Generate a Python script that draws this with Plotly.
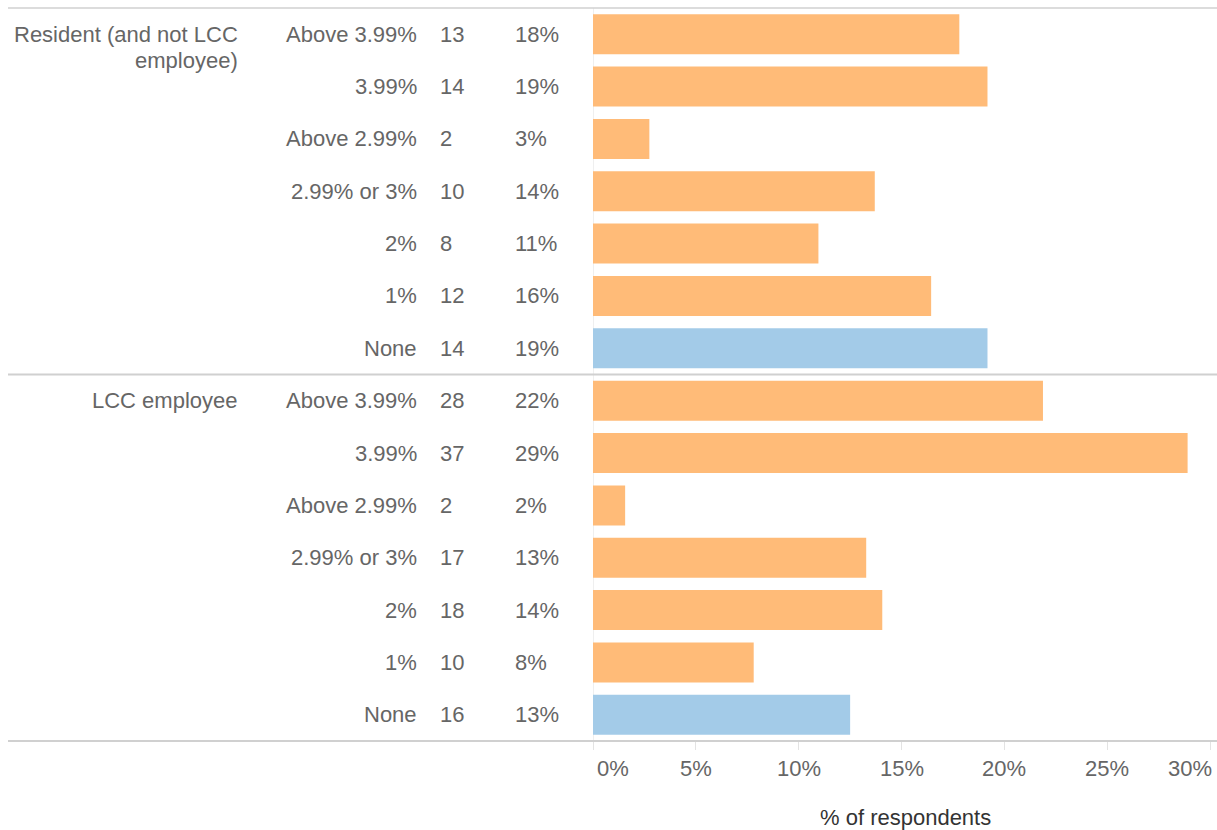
import math
import plotly.graph_objects as go

# Survey responses: preferred council tax rise, by respondent group
groups = [["Resident (and not LCC", "employee)"], ["LCC employee"]]
options = ["Above 3.99%", "3.99%", "Above 2.99%", "2.99% or 3%", "2%", "1%", "None"]
resident_counts = [13, 14, 2, 10, 8, 12, 14]
employee_counts = [28, 37, 2, 17, 18, 10, 16]

tick_values = [0, 5, 10, 15, 20, 25, 30]
tick_labels = ["0%", "5%", "10%", "15%", "20%", "25%", "30%"]

ORANGE = "#FFBB78"
BLUE = "#A3CBE8"
TEXT = "#666666"
RULE = "#D0D0D0"
FONT = "Liberation Sans, Arial, sans-serif"
SIZE = 22

# geometry in pixels
W, H = 1217, 830
L, R, T, B = 593, 0, 8, 89
PX_PER_PCT = 20.57
plot_w = W - L - R
x_max = plot_w / PX_PER_PCT


def px_to_paper(px):
    return (px - L) / plot_w


def pct_label(p):
    # round half up
    return f"{math.floor(p + 0.5)}%"


rows_y, rows_pct, rows_color, rows_opt, rows_n = [], [], [], [], []
for counts in (resident_counts, employee_counts):
    total = sum(counts)
    for opt, n in zip(options, counts):
        rows_y.append(len(rows_y))
        rows_pct.append(n / total * 100)
        rows_color.append(BLUE if opt == "None" else ORANGE)
        rows_opt.append(opt)
        rows_n.append(n)

fig = go.Figure(
    go.Bar(
        x=rows_pct,
        y=rows_y,
        orientation="h",
        marker=dict(color=rows_color, line=dict(width=0)),
        hoverinfo="skip",
    )
)

annotations = []
for y, opt, n, pct in zip(rows_y, rows_opt, rows_n, rows_pct):
    annotations.append(dict(x=px_to_paper(419), y=y, xref="paper", yref="y", text=opt,
                            xanchor="right", yanchor="middle", showarrow=False))
    annotations.append(dict(x=px_to_paper(438), y=y, xref="paper", yref="y", text=str(n),
                            xanchor="left", yanchor="middle", showarrow=False))
    annotations.append(dict(x=px_to_paper(513), y=y, xref="paper", yref="y",
                            text=pct_label(pct), xanchor="left", yanchor="middle",
                            showarrow=False))

for i, lines in enumerate(groups):
    for j, line in enumerate(lines):
        annotations.append(dict(x=px_to_paper(240), y=i * len(options), xref="paper",
                                yref="y", text=line, xanchor="right", yanchor="middle",
                                yshift=-26 * j, showarrow=False))

# tick labels: first hugs the left of its tick, last hugs the right
for i, (v, lab) in enumerate(zip(tick_values, tick_labels)):
    anchor = "left" if i == 0 else ("right" if i == len(tick_values) - 1 else "center")
    shift = 2 if i == 0 else (4 if i == len(tick_values) - 1 else 0)
    annotations.append(dict(x=v, y=0, xref="x", yref="paper", text=lab, xanchor=anchor,
                            yanchor="top", yshift=-13, xshift=shift, showarrow=False))

annotations.append(dict(x=px_to_paper(905), y=0, xref="paper", yref="paper",
                        text="% of respondents", xanchor="center", yanchor="top",
                        yshift=-62, showarrow=False,
                        font=dict(color="#333333", size=SIZE)))

shapes = [
    dict(type="line", xref="paper", yref="paper", x0=px_to_paper(8), x1=1, y0=1, y1=1,
         line=dict(color=RULE, width=1.5)),
    dict(type="line", xref="paper", yref="paper", x0=px_to_paper(8), x1=1, y0=0.5, y1=0.5,
         line=dict(color=RULE, width=2)),
    dict(type="line", xref="paper", yref="paper", x0=px_to_paper(8), x1=1, y0=0, y1=0,
         line=dict(color=RULE, width=2)),
    dict(type="line", xref="x", yref="paper", x0=0, x1=0, y0=0, y1=1,
         line=dict(color="#E0E0E0", width=1), layer="below"),
]

fig.update_layout(
    width=W,
    height=H,
    margin=dict(l=L, r=R, t=T, b=B, autoexpand=False),
    paper_bgcolor="white",
    plot_bgcolor="white",
    showlegend=False,
    bargap=0.236,
    font=dict(family=FONT, size=SIZE, color=TEXT),
    xaxis=dict(range=[0, x_max], tickvals=tick_values, showticklabels=False,
               ticks="outside", ticklen=8, tickcolor="#E3E3E3", tickwidth=1,
               showgrid=False, zeroline=False, showline=False, fixedrange=True),
    yaxis=dict(range=[len(rows_y) - 0.5, -0.5], showticklabels=False, showgrid=False,
               zeroline=False, showline=False, fixedrange=True),
    annotations=annotations,
    shapes=shapes,
)

fig.write_html("out.html", config={"displayModeBar": False})
